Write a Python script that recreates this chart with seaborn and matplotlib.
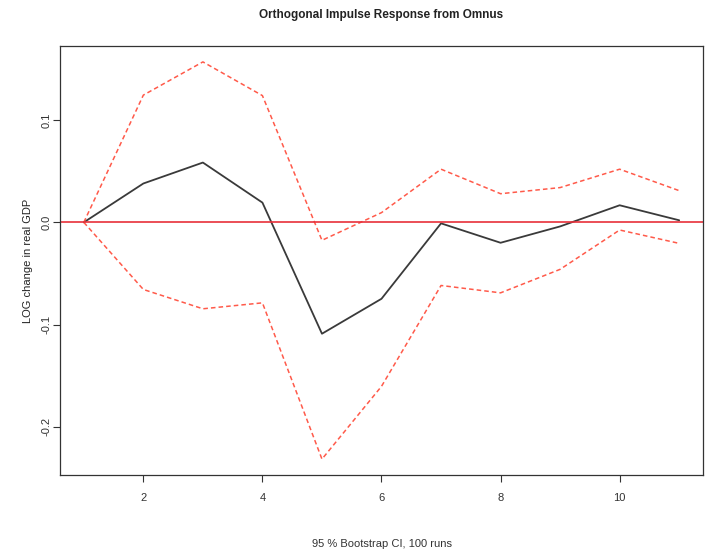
import matplotlib
matplotlib.use("Agg")
import matplotlib.pyplot as plt
import seaborn as sns
import pandas as pd

horizon = [1, 2, 3, 4, 5, 6, 7, 8, 9, 10, 11]
irf = [0.0, 0.038, 0.0585, 0.0193, -0.109, -0.0748, -0.001, -0.020, -0.004, 0.0167, 0.002]
upper = [0.0, 0.1245, 0.157, 0.124, -0.0176, 0.0095, 0.052, 0.028, 0.034, 0.052, 0.031]
lower = [0.0, -0.0657, -0.0846, -0.0788, -0.2317, -0.1605, -0.0618, -0.069, -0.046, -0.0075, -0.0206]
x_ticks = [2, 4, 6, 8, 10]
y_ticks = [-0.2, -0.1, 0.0, 0.1]
y_tick_labels = ["-0.2", "-0.1", "0.0", "0.1"]

sns.set_theme(style="white")
plt.rcParams['font.family'] = ['Liberation Sans', 'DejaVu Sans']

df = pd.DataFrame({"h": horizon, "irf": irf, "upper": upper, "lower": lower})

fig = plt.figure(figsize=(7.07, 5.5), dpi=100)
ax = fig.add_axes([60/707, 75/550, 643/707, 429/550])

sns.lineplot(data=df, x="h", y="irf", ax=ax, color="#3a3a3a", linewidth=1.3)
sns.lineplot(data=df, x="h", y="upper", ax=ax, color="#ff5a4a", linewidth=1.1, linestyle=(0, (3, 2)))
sns.lineplot(data=df, x="h", y="lower", ax=ax, color="#ff5a4a", linewidth=1.1, linestyle=(0, (3, 2)))
ax.axhline(0, color="#e8303a", linewidth=1.2)

ax.set_xlim(0.6, 11.4)
rng = max(upper) - min(lower)
ax.set_ylim(min(lower) - 0.04 * rng, max(upper) + 0.04 * rng)
ax.set_xticks(x_ticks)
ax.set_xticklabels([str(t) for t in x_ticks])
ax.set_yticks(y_ticks)
ax.set_yticklabels(y_tick_labels, rotation=90, va="center")
ax.tick_params(axis="both", direction="out", length=5, width=0.8, colors="#333333",
               labelsize=8, bottom=True, left=True)
ax.tick_params(axis="x", pad=8)
ax.tick_params(axis="y", pad=1)
for s in ax.spines.values():
    s.set_color("#333333")
    s.set_linewidth(0.9)

ax.set_xlabel("95 % Bootstrap CI, 100 runs", fontsize=8, color="#333333", labelpad=26)
ax.set_ylabel("LOG change in real GDP", fontsize=8, color="#222222", labelpad=6)
ax.set_title("Orthogonal Impulse Response from Omnus", fontsize=8.5, color="#222222",
             fontweight="bold", pad=20)

fig.savefig("out.png", dpi=100)
